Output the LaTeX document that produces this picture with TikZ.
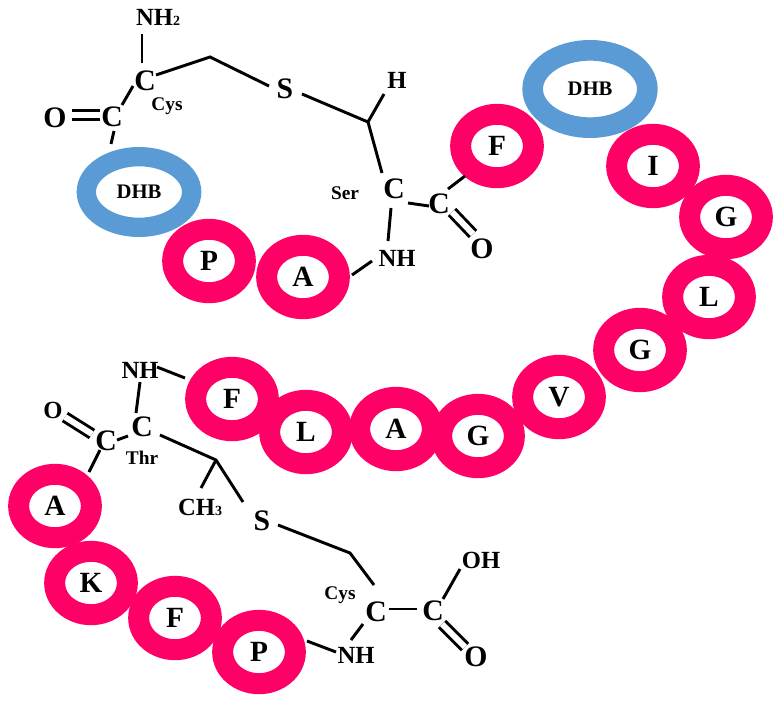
\documentclass[tikz,border=0pt]{standalone}
\usepackage{fontspec}
\setmainfont{Liberation Serif}
\usetikzlibrary{shapes.geometric}
\definecolor{ringpink}{RGB}{255,0,102}
\definecolor{dhbblue}{RGB}{91,155,213}
\newcommand{\fs}[1]{\fontsize{#1}{#1}\selectfont\bfseries}
% point at an offset (in reference pixels) from a named node
\def\at#1#2#3{([shift={(#2,#3)}]#1.center)}
\tikzset{
 x=0.75pt,y=-0.75pt,
 ring/.style={ellipse,draw=ringpink,line width=15.75pt,fill=white,minimum width=54.5pt,minimum height=47.5pt,inner sep=0pt,font=\fs{22}},
 dhba/.style={ellipse,draw=dhbblue,line width=14.5pt,fill=white,minimum width=79pt,minimum height=53pt,inner sep=0pt,font=\fs{15.5}},
 dhbb/.style={ellipse,draw=dhbblue,line width=15.5pt,fill=white,minimum width=86pt,minimum height=58pt,inner sep=0pt,font=\fs{15.5}},
 atom/.style={inner sep=2pt,font=\fs{22.3}},
 grp/.style={inner sep=2pt,font=\fs{18.5}},
 resname/.style={inner sep=1pt,font=\fs{14.5}},
 bond/.style={line width=2.2pt,black},
 dbl/.style={line width=2.2pt,double=white,double distance=4.5pt,black},
}
\begin{document}
\begin{tikzpicture}
\useasboundingbox (0,0) rectangle (781,704);
% rings
\node[ring] (P1) at (209,261) {P};
\node[ring] (A1) at (303,277) {A};
\node[ring] (F1) at (497,146) {F};
\node[ring] (I1) at (653,166) {I};
\node[ring] (G1) at (726,217) {G};
\node[ring] (L1) at (709,297) {L};
\node[ring] (G2) at (640,350) {G};
\node[ring] (V1) at (559,397) {V};
\node[ring] (G3) at (478,436) {G};
\node[ring] (A2) at (396,429) {A};
\node[ring] (L2) at (306,432) {L};
\node[ring] (F2) at (232,399) {F};
\node[ring] (A3) at (55,506) {A};
\node[ring] (K1) at (91,583) {K};
\node[ring] (F3) at (175,618) {F};
\node[ring] (P2) at (259,652) {P};
\node[dhba] (D1) at (139,192) {DHB};
\node[dhbb] (D2) at (590,89) {DHB};
% top residue
\node[grp] (NH2) at (158,17) {NH{\fs{10.5}2}};
\node[atom] (Ca) at (145,81) {C};
\node[resname] (CysA) at (167,106) {Cys};
\node[atom] (Cb) at (112,117) {C};
\node[atom] (Oa) at (55,118) {O};
\node[atom] (Sa) at (285,89) {S};
\coordinate (Ja) at (210,57);
\coordinate (Jb) at (368,122);
\node[grp] (Ha) at (397,80) {H};
\node[atom] (Cc) at (394,189) {C};
\node[resname] (SerA) at (345,193) {Ser};
\node[atom] (Cd) at (439,204) {C};
\node[atom] (Ob) at (482,249) {O};
\node[grp] (NHa) at (397,258) {NH};
\draw[bond] \at{NH2}{-16}{17} -- \at{Ca}{-3}{-18};
\draw[bond] \at{Ca}{11}{-6} -- (Ja) -- \at{Sa}{-16}{-3};
\draw[bond] \at{Ca}{-12}{5} -- \at{Cb}{10}{-12};
\draw[dbl] \at{Cb}{-12}{-2} -- \at{Oa}{17}{-3};
\draw[bond] \at{Cb}{2}{14} -- \at{D1}{-28}{-48};
\draw[bond] \at{Sa}{17}{5} -- (Jb) -- \at{Ha}{-13}{14};
\draw[bond] (Jb) -- \at{Cc}{-12}{-16};
\draw[bond] \at{Cc}{14}{14} -- \at{Cd}{-10}{2};
\draw[bond] \at{Cd}{9}{-15} -- \at{F1}{-32}{30};
\draw[dbl] \at{Cd}{13}{8} -- \at{Ob}{-9}{-15};
\draw[bond] \at{Cc}{-3}{19} -- \at{NHa}{-9}{-17};
\draw[bond] \at{NHa}{-25}{3} -- \at{A1}{49}{-2};
% lower residue
\node[grp] (NHb) at (140,370) {NH};
\node[atom] (Ce) at (142,427) {C};
\node[atom] (Cf) at (106,441) {C};
\node[grp] (Oc) at (53,410) {O};
\node[resname] (ThrA) at (142,458) {Thr};
\coordinate (Jc) at (216,460);
\node[grp] (CH3) at (200,507) {CH{\fs{10.5}3}};
\node[atom] (Sb) at (262,521) {S};
\coordinate (Jd) at (350,553);
\node[resname] (CysB) at (340,595) {Cys};
\node[atom] (Cg) at (376,612) {C};
\node[atom] (Ch) at (433,611) {C};
\node[grp] (OH) at (481,560) {OH};
\node[atom] (Od) at (476,657) {O};
\node[grp] (NHc) at (356,655) {NH};
\draw[bond] \at{NHb}{17}{-3} -- \at{F2}{-47}{-21};
\draw[bond] \at{NHb}{0}{12} -- \at{Ce}{-6}{-14};
\draw[bond] \at{Ce}{-14}{9} -- \at{Cf}{11}{-1};
\draw[dbl] \at{Cf}{-14}{-7} -- \at{Oc}{12}{7};
\draw[bond] \at{Cf}{-6}{9} -- \at{A3}{34}{-34};
\draw[bond] \at{Ce}{18}{8} -- (Jc) -- \at{Sb}{-19}{-19};
\draw[bond] (Jc) -- \at{CH3}{1}{-19};
\draw[bond] \at{Sb}{16}{4} -- (Jd) -- \at{Cg}{-2}{-27};
\draw[bond] \at{Cg}{13}{-3} -- \at{Ch}{-16}{-2};
\draw[bond] \at{Ch}{10}{-12} -- \at{OH}{-21}{9};
\draw[dbl] \at{Ch}{9}{13} -- \at{Od}{-11}{-10};
\draw[bond] \at{Cg}{-13}{12} -- \at{NHc}{-5}{-15};
\draw[bond] \at{NHc}{-20}{-3} -- \at{P2}{48}{-11};
\end{tikzpicture}
\end{document}
